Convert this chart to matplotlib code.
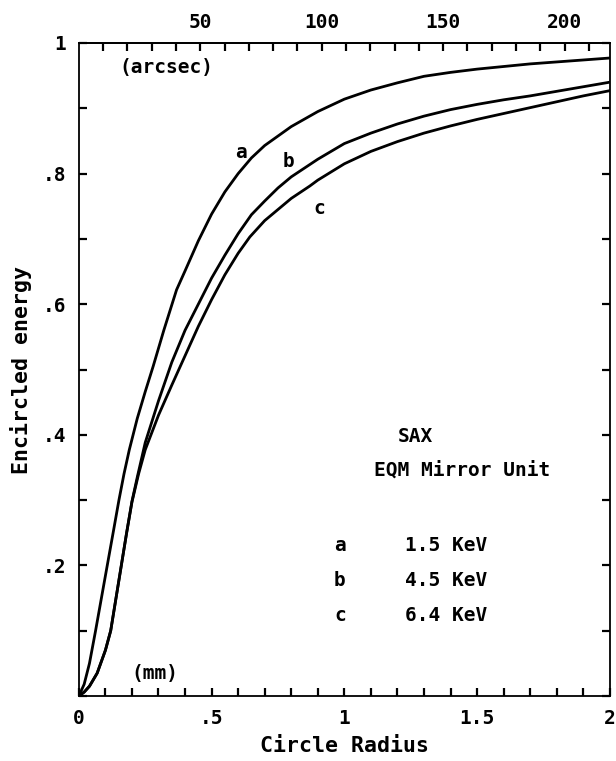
import numpy as np
import matplotlib
matplotlib.use('Agg')
import matplotlib.pyplot as plt

# encircled energy vs circle radius (mm)
r_a = [0, 0.02, 0.04, 0.063, 0.085, 0.107, 0.13, 0.151, 0.17, 0.19, 0.22, 0.25, 0.28, 0.32,
       0.368, 0.4, 0.45, 0.5, 0.55, 0.6, 0.65, 0.7, 0.8, 0.9, 1.0, 1.1, 1.2, 1.3, 1.4, 1.5,
       1.6, 1.7, 1.8, 1.9, 2.0]
ee_a = [0, 0.018, 0.05, 0.10, 0.15, 0.20, 0.252, 0.30, 0.34, 0.377, 0.425, 0.466, 0.505, 0.56,
        0.622, 0.651, 0.697, 0.738, 0.772, 0.800, 0.824, 0.843, 0.872, 0.895, 0.914, 0.928,
        0.939, 0.949, 0.955, 0.960, 0.964, 0.968, 0.971, 0.974, 0.977]

r_b = [0, 0.02, 0.04, 0.069, 0.1, 0.12, 0.14, 0.16, 0.18, 0.2, 0.22, 0.25, 0.3, 0.35, 0.4,
       0.45, 0.5, 0.55, 0.6, 0.65, 0.7, 0.75, 0.8, 0.9, 1.0, 1.1, 1.2, 1.3, 1.4, 1.5, 1.6,
       1.7, 1.8, 1.9, 2.0]
ee_b = [0, 0.006, 0.015, 0.035, 0.07, 0.10, 0.15, 0.20, 0.25, 0.298, 0.335, 0.388, 0.452,
        0.511, 0.56, 0.60, 0.64, 0.675, 0.708, 0.737, 0.758, 0.778, 0.795, 0.822, 0.846,
        0.862, 0.876, 0.888, 0.898, 0.906, 0.913, 0.919, 0.926, 0.933, 0.940]

r_c = [0, 0.02, 0.04, 0.069, 0.1, 0.12, 0.14, 0.16, 0.18, 0.2, 0.225, 0.25, 0.3, 0.35, 0.4,
       0.45, 0.5, 0.55, 0.6, 0.644, 0.7, 0.8, 0.87, 0.9, 1.0, 1.1, 1.2, 1.3, 1.4, 1.5, 1.6,
       1.7, 1.8, 1.9, 2.0]
ee_c = [0, 0.006, 0.015, 0.035, 0.07, 0.10, 0.15, 0.20, 0.25, 0.297, 0.34, 0.377, 0.43,
        0.476, 0.521, 0.566, 0.607, 0.645, 0.678, 0.703, 0.728, 0.762, 0.781, 0.790, 0.815,
        0.834, 0.849, 0.862, 0.873, 0.883, 0.892, 0.901, 0.910, 0.919, 0.927]

curve_labels = ['a', 'b', 'c']
energies = ['1.5 KeV', '4.5 KeV', '6.4 KeV']

# plate scale, arcsec per mm
arcsec_per_mm = 109.3

font = 'DejaVu Sans Mono'
fs = 14

fig = plt.figure(figsize=(6.16, 7.61), dpi=100)
ax = fig.add_axes([0.128, 0.0854, 0.862, 0.8581])

for r, ee in [(r_a, ee_a), (r_b, ee_b), (r_c, ee_c)]:
    ax.plot(r, ee, color='black', lw=2.0, solid_joinstyle='round')

ax.set_xlim(0, 2)
ax.set_ylim(0, 1)

ax.set_xticks(np.arange(0, 2.01, 0.1), minor=True)
ax.set_xticks([0, 0.5, 1, 1.5, 2])
ax.set_xticklabels(['0', '.5', '1', '1.5', '2'], family=font, fontsize=fs, weight='bold')
ax.set_yticks(np.arange(0, 1.01, 0.1), minor=True)
ax.set_yticks([0.2, 0.4, 0.6, 0.8, 1.0])
ax.set_yticklabels(['.2', '.4', '.6', '.8', '1'], family=font, fontsize=fs, weight='bold')
ax.tick_params(which='both', direction='in', length=6, width=1.6, right=True, top=False)
ax.tick_params(axis='x', pad=9)
ax.tick_params(axis='y', pad=9)
for s in ax.spines.values():
    s.set_linewidth(1.3)

top = ax.secondary_xaxis('top', functions=(lambda x: x * arcsec_per_mm, lambda a: a / arcsec_per_mm))
top.set_xticks([50, 100, 150, 200])
top.set_xticklabels(['50', '100', '150', '200'], family=font, fontsize=fs, weight='bold')
top.set_xticks(np.arange(10, 220, 10), minor=True)
top.tick_params(which='both', direction='in', length=6, width=1.6, pad=8)
top.spines['top'].set_linewidth(1.3)

ax.set_xlabel('Circle Radius', family=font, fontsize=15.5, weight='bold', labelpad=6)
ax.set_ylabel('Encircled energy', family=font, fontsize=15.5, weight='bold', labelpad=8)

tk = dict(family=font, fontsize=fs, weight='bold', ha='center', va='center')
ax.text(0.328, 0.962, '(arcsec)', **tk)
ax.text(0.287, 0.034, '(mm)', **tk)

# curve tags
ax.text(0.61, 0.832, curve_labels[0], **tk)
ax.text(0.79, 0.818, curve_labels[1], **tk)
ax.text(0.905, 0.747, curve_labels[2], **tk)

ax.text(1.266, 0.397, 'SAX', **tk)
ax.text(1.443, 0.346, 'EQM Mirror Unit', **tk)
for i, (lab, en) in enumerate(zip(curve_labels, energies)):
    y = 0.23 - i * 0.0537
    ax.text(0.983, y, lab, **tk)
    ax.text(1.228, y, en, family=font, fontsize=fs, weight='bold', ha='left', va='center')

fig.savefig('out.png', dpi=100)
